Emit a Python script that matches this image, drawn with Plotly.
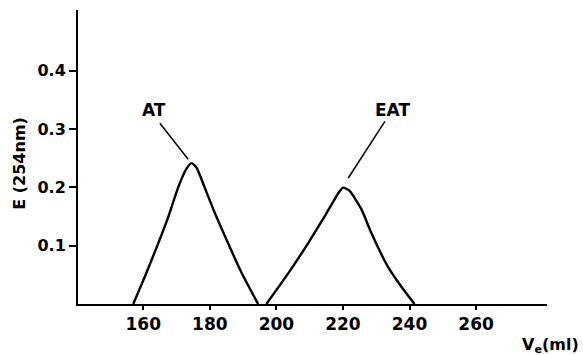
import plotly.graph_objects as go

# Elution profiles (absorbance at 254 nm vs. elution volume)
at_volume = [157.0, 160.5, 164.5, 167.5, 170.5, 173.0, 174.5, 176.0, 178.5, 181.5, 185.5, 189.5, 194.5]
at_absorb = [0.0, 0.047, 0.104, 0.149, 0.200, 0.232, 0.2415, 0.234, 0.199, 0.156, 0.104, 0.054, 0.0]

eat_volume = [197.0, 203.5, 209.5, 215.0, 218.5, 220.0, 222.0, 225.5, 228.5, 233.5, 237.5, 241.5]
eat_absorb = [0.0, 0.052, 0.104, 0.155, 0.189, 0.1995, 0.194, 0.163, 0.122, 0.064, 0.030, 0.0]

x_ticks = [160, 180, 200, 220, 240, 260]
y_ticks = [0.1, 0.2, 0.3, 0.4]
y_tick_text = ["0.1", "0.2", "0.3", "0.4"]

FONT = "DejaVu Sans"

fig = go.Figure()
for xs, ys in [(at_volume, at_absorb), (eat_volume, eat_absorb)]:
    fig.add_trace(go.Scatter(
        x=xs, y=ys, mode="lines",
        line=dict(color="black", width=2.4, shape="spline", smoothing=0.5),
        showlegend=False, hoverinfo="skip",
    ))

# Peak labels with leader lines
labels = [
    dict(text="AT", x=163.3, y=0.332, x0=165.0, y0=0.310, x1=173.5, y1=0.248),
    dict(text="EAT", x=235.0, y=0.332, x0=232.6, y0=0.313, x1=221.6, y1=0.216),
]
for lab in labels:
    fig.add_shape(type="line", xref="x", yref="y",
                  x0=lab["x0"], y0=lab["y0"], x1=lab["x1"], y1=lab["y1"],
                  line=dict(color="black", width=1.5))
    fig.add_annotation(x=lab["x"], y=lab["y"], xref="x", yref="y",
                       text=lab["text"], showarrow=False,
                       font=dict(family=FONT, size=17, color="black", weight="bold"))

# Axis titles
fig.add_annotation(xref="paper", yref="paper", x=-0.124, y=0.48,
                   xanchor="center", yanchor="middle",
                   text="E (254nm)", textangle=-90, showarrow=False,
                   font=dict(family=FONT, size=16, color="black", weight="bold"))
fig.add_annotation(xref="paper", yref="paper", x=1.072, y=-0.098,
                   xanchor="right", yanchor="top",
                   text="V<sub>e</sub>(ml)", showarrow=False,
                   font=dict(family=FONT, size=16, color="black", weight="bold"))

fig.update_layout(
    width=583, height=355,
    margin=dict(l=78, r=36, t=10, b=51),
    paper_bgcolor="white", plot_bgcolor="white",
    font=dict(family=FONT, color="black"),
)
fig.update_xaxes(
    range=[140.4, 281.3], tickvals=x_ticks,
    showline=True, linecolor="black", linewidth=2,
    ticks="outside", ticklen=4, tickwidth=1.5, tickcolor="black",
    showgrid=False, zeroline=False,
    tickfont=dict(family=FONT, size=17, color="black", weight="bold"),
)
fig.update_yaxes(
    range=[0, 0.504], tickvals=y_ticks, ticktext=y_tick_text,
    showline=True, linecolor="black", linewidth=2,
    ticks="outside", ticklen=7, tickwidth=1.5, tickcolor="black",
    showgrid=False, zeroline=False,
    tickfont=dict(family=FONT, size=16, color="black", weight="bold"),
)

fig.write_html("out.html")
